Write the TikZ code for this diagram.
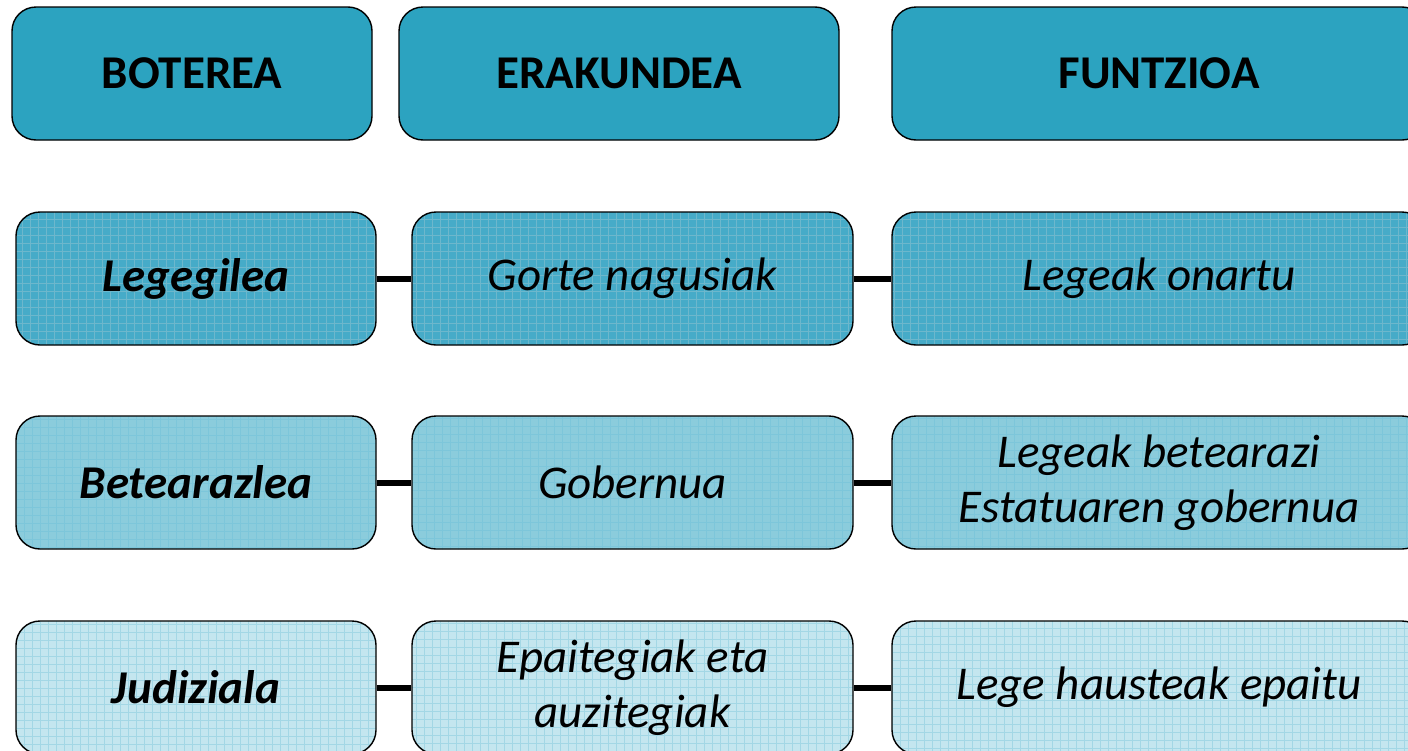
\documentclass[tikz,border=0pt]{standalone}
\usepackage{fontspec}
\setmainfont{Carlito}
\definecolor{hdr}{HTML}{2CA3C0}
\definecolor{rowA}{HTML}{46ABC8}
\definecolor{rowAg}{HTML}{2F98B6}
\definecolor{rowB}{HTML}{8BCCDC}
\definecolor{rowBg}{HTML}{46AECA}
\definecolor{rowC}{HTML}{C4E6EF}
\definecolor{rowCg}{HTML}{7CC6DA}
\tikzset{
  box/.style={draw=black, line width=0.7pt, rounded corners=12pt, minimum height=66.5pt, inner sep=2pt, align=center, font=\fontsize{23.5}{27.5}\selectfont\itshape},
  head/.style={box, fill=hdr, font=\fontsize{23.5}{27.5}\selectfont\bfseries},
  gridfill/.style n args={2}{fill=#1, path picture={
      \draw[#2, line width=0.25pt] ([xshift=-1pt,yshift=-1pt]path picture bounding box.south west) grid[step=4pt] ([xshift=1pt,yshift=1pt]path picture bounding box.north east);}},
  link/.style={line width=3pt, draw=black}
}
\begin{document}
\begin{tikzpicture}[x=0.5pt,y=-0.5pt]
\useasboundingbox (0,0) rectangle (1408,750);
\clip (0,0) rectangle (1408,750);
% headers
\node[head, minimum width=180pt] (h1) at (192,73.5) {BOTEREA};
\node[head, minimum width=220pt] (h2) at (619,73.5) {ERAKUNDEA};
\node[head, minimum width=267pt] (h3) at (1159,73.5) {FUNTZIOA};
% row 1
\node[box, gridfill={rowA}{rowAg!70}, minimum width=180pt] (a1) at (196,278.5) {\bfseries\itshape Legegilea};
\node[box, gridfill={rowA}{rowAg!70}, minimum width=220.5pt] (a2) at (632.5,278.5) {Gorte nagusiak};
\node[box, gridfill={rowA}{rowAg!70}, minimum width=267pt] (a3) at (1159,278.5) {Legeak onartu};
% row 2
\node[box, gridfill={rowB}{rowBg!70}, minimum width=180pt] (b1) at (196,482.5) {\bfseries\itshape Betearazlea};
\node[box, gridfill={rowB}{rowBg!70}, minimum width=220.5pt] (b2) at (632.5,482.5) {Gobernua};
\node[box, gridfill={rowB}{rowBg!70}, minimum width=267pt] (b3) at (1159,482.5) {Legeak betearazi\\Estatuaren gobernua};
% row 3
\node[box, gridfill={rowC}{rowCg!70}, minimum width=180pt] (c1) at (196,687.5) {\bfseries\itshape Judiziala};
\node[box, gridfill={rowC}{rowCg!70}, minimum width=220.5pt] (c2) at (632.5,687.5) {Epaitegiak eta\\auzitegiak};
\node[box, gridfill={rowC}{rowCg!70}, minimum width=267pt] (c3) at (1159,687.5) {Lege hausteak epaitu};
% links
\draw[link] (a1.east) -- (a2.west);
\draw[link] (a2.east) -- (a3.west);
\draw[link] (b1.east) -- (b2.west);
\draw[link] (b2.east) -- (b3.west);
\draw[link] (c1.east) -- (c2.west);
\draw[link] (c2.east) -- (c3.west);
\end{tikzpicture}
\end{document}
